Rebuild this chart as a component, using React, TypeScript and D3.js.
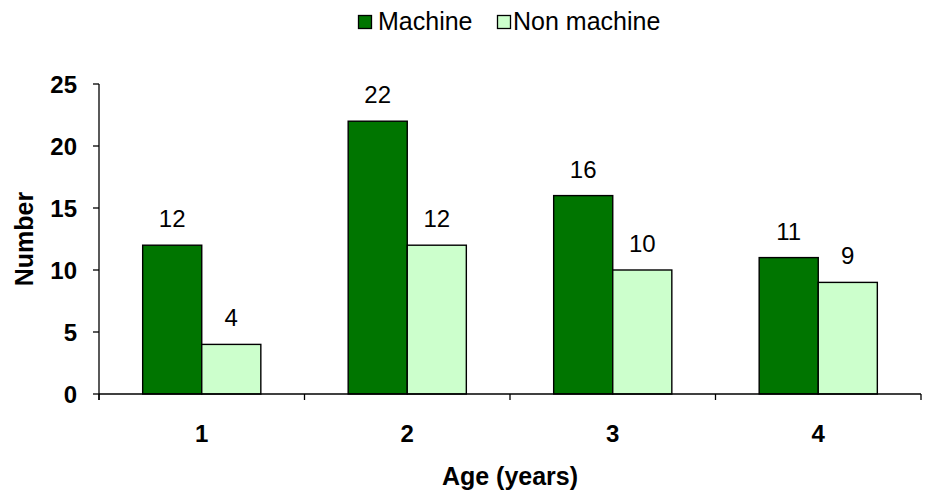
import React from "react";
import * as d3 from "d3";

const categories = ["1", "2", "3", "4"];
const seriesNames = ["Machine", "Non machine"];
const machine = [12, 22, 16, 11];
const nonMachine = [4, 12, 10, 9];
const yTicks = [0, 5, 10, 15, 20, 25];
const colors = ["#007500", "#ccffcc"];

const W = 927, H = 496;
const left = 99, right = 921, top = 84, bottom = 394;

export default function App() {
  const x = d3.scaleBand<string>().domain(categories).range([left, right]).paddingInner(0).paddingOuter(0);
  const y = d3.scaleLinear().domain([0, 25]).range([bottom, top]);
  const groupW = x.bandwidth() * 0.575;
  const sub = d3.scaleBand<number>().domain([0, 1]).range([0, groupW]);
  const series = [machine, nonMachine];
  const font = "Arial, 'Liberation Sans', sans-serif";
  const boundaries = [...categories.map((c) => x(c)!), right];

  return (
    <svg width={W} height={H} style={{ position: "absolute", left: 0, top: 0, background: "#fff" }} fontFamily={font}>
      {/* legend */}
      <g>
        <rect x={358.5} y={15.5} width={13} height={13} fill={colors[0]} stroke="#000" strokeWidth={1.3} />
        <text x={378} y={30} fontSize={25}>{seriesNames[0]}</text>
        <rect x={497.5} y={15.5} width={13} height={13} fill={colors[1]} stroke="#000" strokeWidth={1.3} />
        <text x={513} y={30} fontSize={25}>{seriesNames[1]}</text>
      </g>
      {/* bars */}
      {categories.map((c, i) => {
        const cx = x(c)! + x.bandwidth() / 2;
        const gx = cx - groupW / 2;
        return (
          <g key={c}>
            {series.map((s, j) => (
              <g key={j}>
                <rect
                  x={gx + sub(j)!}
                  y={y(s[i])}
                  width={sub.bandwidth()}
                  height={bottom - y(s[i])}
                  fill={colors[j]}
                  stroke="#000"
                  strokeWidth={1.4}
                />
                <text
                  x={gx + sub(j)! + sub.bandwidth() / 2}
                  y={y(s[i]) - 18}
                  textAnchor="middle"
                  fontSize={24}
                >
                  {s[i]}
                </text>
              </g>
            ))}
            <text x={cx} y={442} textAnchor="middle" fontSize={24} fontWeight="bold">{c}</text>
          </g>
        );
      })}
      {/* y axis */}
      <line x1={left} x2={left} y1={top} y2={bottom + 6} stroke="#000" strokeWidth={1.3} />
      {yTicks.map((t) => (
        <g key={t}>
          <line x1={left - 6} x2={left} y1={y(t)} y2={y(t)} stroke="#000" strokeWidth={1.3} />
          <text x={left - 22} y={y(t) + 8.5} textAnchor="end" fontSize={24} fontWeight="bold">{t}</text>
        </g>
      ))}
      {/* x axis */}
      <line x1={left} x2={right} y1={bottom} y2={bottom} stroke="#000" strokeWidth={1.3} />
      {boundaries.map((b, i) => (
        <line key={i} x1={b} x2={b} y1={bottom} y2={bottom + 6} stroke="#000" strokeWidth={1.3} />
      ))}
      <text x={(left + right) / 2} y={485} textAnchor="middle" fontSize={25} fontWeight="bold">Age (years)</text>
      <text transform={`translate(33,${(top + bottom) / 2}) rotate(-90)`} textAnchor="middle" fontSize={25} fontWeight="bold">Number</text>
    </svg>
  );
}
